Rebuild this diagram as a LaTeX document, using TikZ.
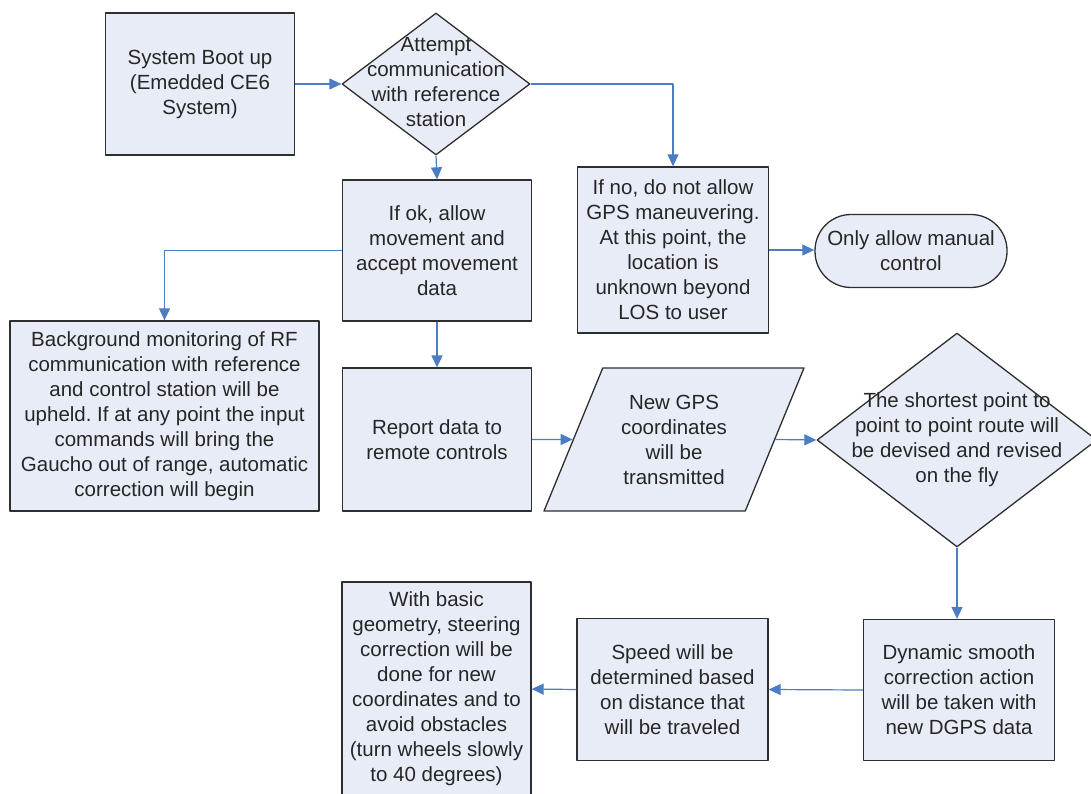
\documentclass[tikz,border=0pt]{standalone}
\usepackage{fontspec}
\setmainfont{Liberation Sans}
\usetikzlibrary{shapes.geometric,arrows.meta}
\definecolor{boxfill}{HTML}{E7ECF7}
\definecolor{boxline}{HTML}{2E2E2E}
\definecolor{arrowblue}{HTML}{4A7DC4}
\frenchspacing
\begin{document}
\begin{tikzpicture}[x=1pt,y=-1pt,font=\fontsize{20.5}{25}\selectfont,line join=round,
	>={Triangle[length=12pt,width=11pt]},
	blok/.style={draw=boxline,fill=boxfill,line width=1.3pt,align=center,inner sep=0pt,text=black!85},
	txt/.style={align=center,inner sep=0pt,text=black!85},
	flow/.style={->,draw=arrowblue,line width=1.2pt}]
	\useasboundingbox (0,0) rectangle (1091,794);
	% boxes
	\node[blok,minimum width=189,minimum height=142] (boot) at (200,84) {System Boot up\\(Emedded CE6\\System)};
	\node[blok,diamond,minimum width=188,minimum height=142] (att) at (436,84) {};
	\node[txt] (attT) at (436,82) {Attempt\\communication\\with reference\\station};
	\node[blok,minimum width=189,minimum height=141] (ok) at (437,250.5) {If ok, allow\\movement and\\accept movement\\data};
	\node[blok,minimum width=191,minimum height=166] (no) at (673,250) {If no, do not allow\\GPS maneuvering.\\At this point, the\\location is\\unknown beyond\\LOS to user};
	\node[blok,minimum width=192,minimum height=73,rounded corners=36pt] (man) at (911,251) {Only allow manual\\control};
	\node[blok,minimum width=309,minimum height=190] (bg) at (164.5,416) {Background monitoring of RF\\communication with reference\\and control station will be\\upheld. If at any point the input\\commands will bring the\\Gaucho out of range, automatic\\correction will begin};
	\node[blok,minimum width=189,minimum height=143] (rep) at (437,439.5) {Report data to\\remote controls};
	\node[blok,trapezium,trapezium left angle=64,trapezium right angle=116,trapezium stretches=true,minimum width=260,minimum height=143] (gps) at (674,439.5) {New GPS\\coordinates\\will be\\transmitted};
	\node[blok,diamond,minimum width=280,minimum height=214] (route) at (957,440) {};
	\node[txt] (routeT) at (957,440) {The shortest point to\\point to point route will\\be devised and revised\\on the fly};
	\node[blok,minimum width=191,minimum height=141] (dyn) at (959,690) {Dynamic smooth\\correction action\\will be taken with\\new DGPS data};
	\node[blok,minimum width=191,minimum height=142] (spd) at (672.5,689.5) {Speed will be\\determined based\\on distance that\\will be traveled};
	\node[blok,minimum width=189,minimum height=214] (geo) at (436.5,689) {With basic\\geometry, steering\\correction will be\\done for new\\coordinates and to\\avoid obstacles\\(turn wheels slowly\\to 40 degrees)};
	% connectors
	\draw[flow] (boot) -- (att);
	\draw[flow] (att.east) -| (no.north);
	\draw[flow] (att.south) -- (ok.north);
	\draw[flow] (ok.west) -| (bg.north);
	\draw[flow] (no.east) -- (no.east -| man.west);
	\draw[flow] (ok.south) -- (rep.north);
	\draw[flow] (rep.east) -- (gps.west);
	\draw[flow] (gps.east) -- (route.west);
	\draw[flow] (route.south) -- (route.south |- dyn.north);
	\draw[flow] (dyn.west) -- (spd.east);
	\draw[flow] (spd.west) -- (geo.east);
\end{tikzpicture}
\end{document}
